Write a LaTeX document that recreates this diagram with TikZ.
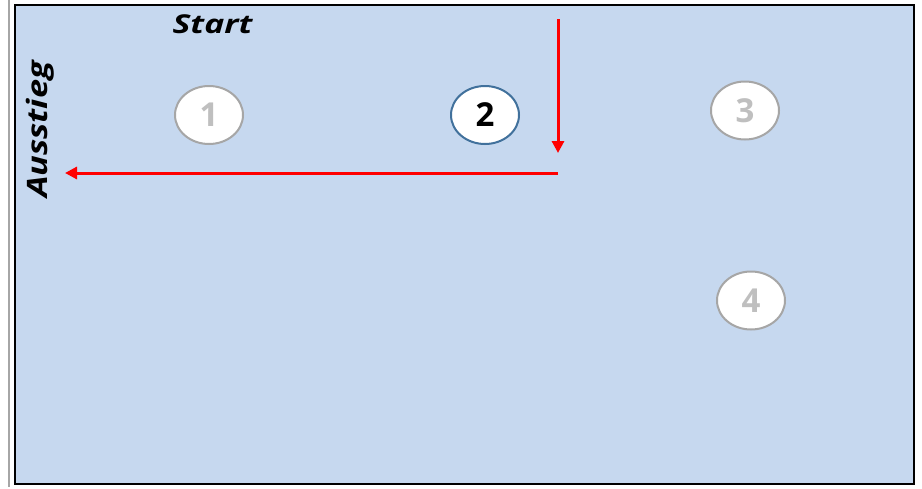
\documentclass[tikz,border=0pt]{standalone}
\usepackage{fontspec}
\usepackage{graphicx}
\setmainfont{Open Sans}
\usetikzlibrary{shapes.geometric,arrows.meta}
\definecolor{bgblue}{HTML}{C6D8EF}
\definecolor{ringgray}{HTML}{A6A6A6}
\definecolor{numgray}{HTML}{BFBFBF}
\definecolor{ringblue}{HTML}{41719C}
\tikzset{
  stop/.style={ellipse, draw=ringgray, line width=2pt, fill=white, minimum width=68pt, minimum height=58pt, inner sep=0pt,
    text=numgray, font=\fontsize{33}{40}\selectfont\bfseries},
  active/.style={stop, draw=ringblue, text=black},
  label/.style={font=\fontsize{26}{32}\selectfont\bfseries\itshape, inner sep=0pt},
  route/.style={draw=red, line width=3pt, -{Triangle[width=12pt,length=12pt]}}
}
\begin{document}
\begin{tikzpicture}[x=1pt,y=-1pt]
\useasboundingbox (0,0) rectangle (922,488);
\fill[white] (0,0) rectangle (922,488);
\draw[color=gray!70, line width=2pt] (9,0) -- (9,487);
\draw[fill=bgblue, draw=black, line width=2.5pt] (15,5) rectangle (914,484);
\node[label, anchor=base] (start) at (212.5,33) {\scalebox{1.3}[1]{Start}};
\node[label, rotate=90, anchor=base] (ausstieg) at (47.5,129.5) {\scalebox{1.32}[1.08]{Ausstieg}};
\node[stop] (s1) at (209,115) {1};
\node[active] (s2) at (485,115) {2};
\node[stop] (s3) at (745,110.5) {3};
\node[stop] (s4) at (751,300.5) {4};
\coordinate (vtop) at (558,19);
\coordinate (vend) at (558,153);
\coordinate (hstart) at (558,173);
\coordinate (hend) at (65,173);
\draw[route] (vtop) -- (vend);
\draw[route] (hstart) -- (hend);
\end{tikzpicture}
\end{document}
